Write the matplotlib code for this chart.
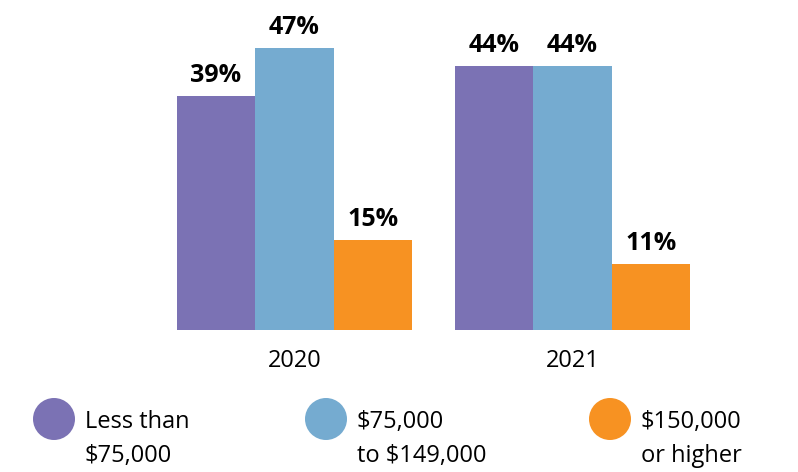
import matplotlib
matplotlib.use("Agg")
import matplotlib.pyplot as plt
from matplotlib.patches import Ellipse

years = ["2020", "2021"]
groups = ["Less than\n$75,000", "$75,000\nto $149,000", "$150,000\nor higher"]
values = {
    "Less than\n$75,000": [39, 44],
    "$75,000\nto $149,000": [47, 44],
    "$150,000\nor higher": [15, 11],
}
colors = ["#7B72B4", "#75ABD0", "#F79222"]

plt.rcParams["font.family"] = ["Open Sans", "DejaVu Sans"]

W, H = 798, 472
fig = plt.figure(figsize=(W / 100, H / 100), dpi=100)

# axes covering full width, baseline at y=330 px
base = 330
ax = fig.add_axes([0, (H - base) / H, 1, base / H])
step = 278.0
center0 = 294.5
ax.set_xlim(-center0 / step, (W - center0) / step)
ax.set_ylim(0, base / 6.0)
ax.axis("off")

bw = 78.5 / step
for i, g in enumerate(groups):
    for j, v in enumerate(values[g]):
        x = j + (i - 1) * bw
        ax.bar(x, v, width=bw, color=colors[i], linewidth=0)
        ax.text(x, v + 2.4, f"{v}%", ha="center", va="baseline",
                fontsize=18, fontweight="bold", color="black")

for j, y in enumerate(years):
    ax.text(j, -5.2, y, ha="center", va="center", fontsize=17,
            color="black", clip_on=False)

# legend drawn in pixel coordinates
lax = fig.add_axes([0, 0, 1, 1])
lax.set_xlim(0, W)
lax.set_ylim(H, 0)
lax.axis("off")
leg_x = [54, 326, 610]
for i, g in enumerate(groups):
    lax.add_patch(Ellipse((leg_x[i], 419), 42, 42, color=colors[i], linewidth=0))
    for k, line in enumerate(g.split("\n")):
        lax.text(leg_x[i] + 31, 428 + k * 34, line, ha="left", va="baseline",
                 fontsize=17, color="black")

fig.savefig("out.png", dpi=100)
